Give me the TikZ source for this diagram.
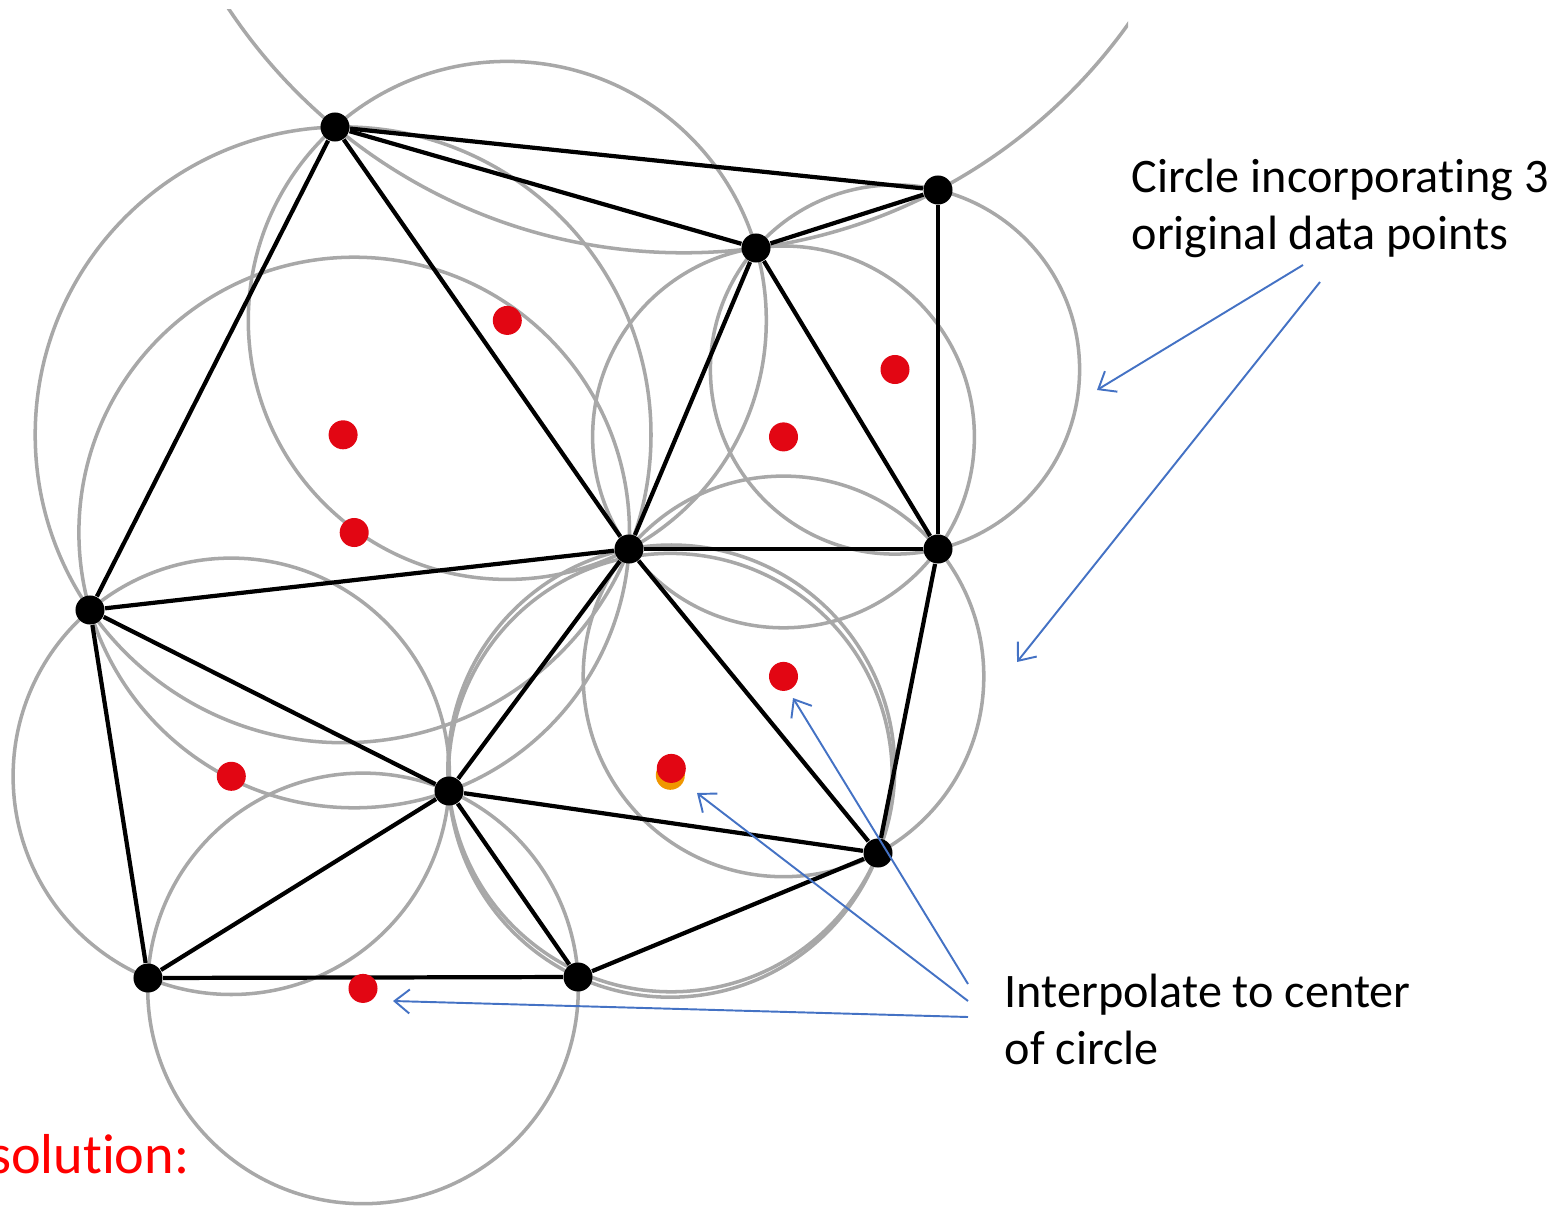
\documentclass[tikz,border=0pt]{standalone}
\usepackage{fontspec}
\setmainfont[Ligatures=NoCommon]{Carlito}
\usetikzlibrary{arrows.meta}

\definecolor{ringgray}{RGB}{168,168,168}
\definecolor{dotred}{RGB}{226,6,19}
\definecolor{dotorange}{RGB}{240,150,0}
\definecolor{arrowblue}{RGB}{68,114,196}

\tikzset{
    ring/.style={ringgray,line width=1pt},
    edge/.style={black,line width=1.2pt},
    vertex/.style={circle,fill=black,inner sep=0pt,minimum size=0.29cm},
    centre/.style={circle,fill=#1,inner sep=0pt,minimum size=0.29cm},
    pointer/.style={arrowblue,line width=0.55pt,-{Straight Barb[length=0.15cm,width=0.24cm]}},
    note/.style={align=left,inner sep=0pt,font=\fontsize{13.7}{16.2}\selectfont}
}

\begin{document}
\begin{tikzpicture}[x=0.01cm,y=-0.01cm]
    \useasboundingbox (0,0) rectangle (1566,1206);

    % circumcircles of the triangles
    \begin{scope}
        \clip (0,9) rectangle (1128,1206);
        \foreach \cx/\cy/\r in {683.7/-293.4/546.2, 895.0/369.5/184.6,
                507.3/320.4/259.0, 343.1/434.8/307.9, 783.5/436.9/190.9,
                783.5/676.4/200.3, 671.3/768.4/223.4, 354.2/532.5/275.3,
                231.3/776.3/218.2, 363.0/988.4/215.3, 670.3/775.3/221.9}
            \draw[ring] (\cx,\cy) circle (\r);
    \end{scope}

    % original data points
    \node[vertex] (a) at (335,127) {};
    \node[vertex] (b) at (938,190) {};
    \node[vertex] (c) at (756,248) {};
    \node[vertex] (d) at (629,549) {};
    \node[vertex] (e) at (938,549) {};
    \node[vertex] (f) at (90,610) {};
    \node[vertex] (g) at (449,791) {};
    \node[vertex] (h) at (878,853) {};
    \node[vertex] (i) at (148,978) {};
    \node[vertex] (j) at (578,977) {};

    % triangulation
    \foreach \p/\q in {a/b,a/c,c/b,b/e,a/d,a/f,c/d,c/e,d/e,d/f,
                       f/g,f/i,d/g,d/h,e/h,g/h,g/i,g/j,i/j,j/h}
        \draw[edge] (\p) -- (\q);

    % centres of the circles
    \node[centre=dotred] (acd) at (507.3,320.4) {};
    \node[centre=dotred] (adf) at (343.1,434.8) {};
    \node[centre=dotred] (dfg) at (354.2,532.5) {};
    \node[centre=dotred] (cbe) at (895.0,369.5) {};
    \node[centre=dotred] (cde) at (783.5,436.9) {};
    \node[centre=dotred] (deh) at (783.5,676.4) {};
    \node[centre=dotorange] (gjh) at (670.3,775.3) {};
    \node[centre=dotred] (dgh) at (671.3,768.4) {};
    \node[centre=dotred] (fgi) at (231.3,776.3) {};
    \node[centre=dotred] (gij) at (363.0,988.4) {};

    % labels
    \node[note,anchor=north west] (circnote) at (1131,158)
        {Circle incorporating 3\\original data points};
    \node[note,anchor=north west] (interpnote) at (1004,973)
        {Interpolate to center\\of circle};
    \node[anchor=base east,inner sep=0pt,text=red,
          font=\fontsize{16}{19}\selectfont] (sol) at (190,1173) {solution:};

    % pointers
    \coordinate (circtail1) at (1303,265);
    \coordinate (circtail2) at (1320,282);
    \coordinate (circtip1) at (1097,390);
    \coordinate (circtip2) at (1017,662);
    \draw[pointer] (circtail1) -- (circtip1);
    \draw[pointer] (circtail2) -- (circtip2);

    \coordinate (interptail1) at (968,984);
    \coordinate (interptail2) at (968,1001);
    \coordinate (interptail3) at (968,1017);
    \coordinate (interptip1) at (793,698);
    \coordinate (interptip2) at (697,793);
    \coordinate (interptip3) at (393,1001);
    \draw[pointer] (interptail1) -- (interptip1);
    \draw[pointer] (interptail2) -- (interptip2);
    \draw[pointer] (interptail3) -- (interptip3);
\end{tikzpicture}
\end{document}
